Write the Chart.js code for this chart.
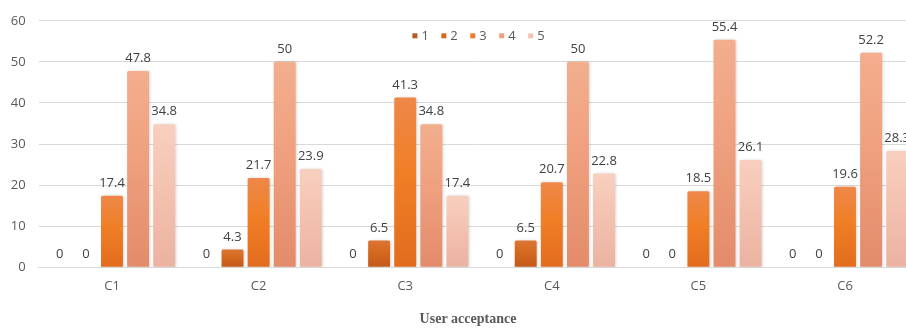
<!DOCTYPE html>
<html>
<head>
<meta charset="utf-8">
<script src="https://cdn.jsdelivr.net/npm/chart.js@4.4.1/dist/chart.umd.min.js"></script>
<style>
  html, body { margin: 0; padding: 0; background: #ffffff; overflow: hidden; }
  #wrap { width: 906px; height: 329px; overflow: hidden; position: relative; }
  canvas { display: block; }
</style>
</head>
<body>
<div id="wrap"><canvas id="chart" width="936" height="329"></canvas></div>
<script>
// Ratings per criterion, one array per rating level
const categories = ['C1', 'C2', 'C3', 'C4', 'C5', 'C6'];
const seriesNames = ['1', '2', '3', '4', '5'];
const rating1 = [0, 0, 0, 0, 0, 0];
const rating2 = [0, 4.3, 6.5, 6.5, 0, 0];
const rating3 = [17.4, 21.7, 41.3, 20.7, 18.5, 19.6];
const rating4 = [47.8, 50, 34.8, 50, 55.4, 52.2];
const rating5 = [34.8, 23.9, 17.4, 22.8, 26.1, 28.3];
const yMin = 0, yMax = 60, yStep = 10;
const axisTitle = 'User acceptance';

// Bar shading: gradient stops from top to bottom, plus a flat swatch colour
const palettes = [
  { swatch: '#B65A22', stops: ['#C4682E', '#B85B21', '#A84E17'] },
  { swatch: '#D6691F', stops: ['#DC7635', '#D4681F', '#C2591A'] },
  { swatch: '#EF7A28', stops: ['#EE8849', '#F07E25', '#E26C1E'] },
  { swatch: '#F0A07F', stops: ['#F3AE8D', '#EFA07E', '#E38B6B'] },
  { swatch: '#F5C3B1', stops: ['#F8CFBF', '#F4C2B0', '#EBB2A1'] }
];

Chart.defaults.font.family = "'Open Sans', sans-serif";
Chart.defaults.font.size = 13;
Chart.defaults.color = '#595959';

function barFill(idx) {
  return function (ctx) {
    const pal = palettes[idx];
    if (ctx.type !== 'data') return pal.swatch;
    const chart = ctx.chart;
    const y = chart.scales && chart.scales.y;
    if (!y || !chart.chartArea) return pal.swatch;
    const top = y.getPixelForValue(ctx.parsed.y);
    const base = y.getPixelForValue(0);
    if (!isFinite(top) || Math.abs(base - top) < 1) return pal.stops[1];
    const g = chart.ctx.createLinearGradient(0, top, 0, base);
    g.addColorStop(0, pal.stops[0]);
    g.addColorStop(0.45, pal.stops[1]);
    g.addColorStop(1, pal.stops[2]);
    return g;
  };
}

const seriesValues = [rating1, rating2, rating3, rating4, rating5];
const datasets = seriesValues.map((vals, i) => ({
  label: seriesNames[i],
  data: vals,
  backgroundColor: barFill(i),
  borderWidth: 0,
  borderRadius: 1.5,
  borderSkipped: 'bottom',
  categoryPercentage: 0.89,
  barPercentage: 0.84
}));

// Let the value-axis labels use the free margin to the left of the axis box
const wideTickArea = {
  id: 'wideTickArea',
  afterLayout(chart) {
    chart.scales.y.left = 0;
  }
};

// Soft drop shadow under the bars
const barShadow = {
  id: 'barShadow',
  beforeDatasetsDraw(chart) {
    const c = chart.ctx;
    c.save();
    c.shadowColor = 'rgba(0,0,0,0.16)';
    c.shadowBlur = 3;
    c.shadowOffsetX = 1;
    c.shadowOffsetY = 0;
  },
  afterDatasetsDraw(chart) {
    chart.ctx.restore();
  }
};

// Value labels above each bar
const valueLabels = {
  id: 'valueLabels',
  afterDatasetsDraw(chart) {
    const c = chart.ctx;
    c.save();
    c.font = "13px 'Open Sans', sans-serif";
    c.fillStyle = '#404040';
    c.textAlign = 'center';
    c.textBaseline = 'middle';
    chart.data.datasets.forEach((ds, di) => {
      const meta = chart.getDatasetMeta(di);
      meta.data.forEach((bar, i) => {
        c.fillText(String(ds.data[i]), bar.x, bar.y - 12.5);
      });
    });
    c.restore();
  }
};

// Small square-swatch legend placed inside the plot, centred on it
const innerLegend = {
  id: 'innerLegend',
  afterDraw(chart) {
    const c = chart.ctx;
    const area = chart.chartArea;
    const box = 5, gap = 4, spacing = 12.5;
    c.save();
    c.font = "13px 'Open Sans', sans-serif";
    c.textBaseline = 'middle';
    c.textAlign = 'left';
    const widths = chart.data.datasets.map(ds => box + gap + c.measureText(ds.label).width);
    const total = widths.reduce((a, b) => a + b, 0) + spacing * (widths.length - 1);
    let x = (area.left + area.right) / 2 - total / 2;
    const yMid = area.top + 15;
    chart.data.datasets.forEach((ds, i) => {
      c.fillStyle = palettes[i].swatch;
      c.fillRect(x, yMid - box / 2, box, box);
      c.fillStyle = '#595959';
      c.fillText(ds.label, x + box + gap, yMid + 0.5);
      x += widths[i] + spacing;
    });
    c.restore();
  }
};

new Chart(document.getElementById('chart'), {
  type: 'bar',
  data: { labels: categories, datasets },
  options: {
    responsive: false,
    animation: false,
    devicePixelRatio: 1,
    layout: { padding: { left: 17.7, right: 17.7, top: 16, bottom: 0 } },
    plugins: {
      legend: { display: false },
      tooltip: { enabled: false },
      title: {
        display: true,
        position: 'bottom',
        text: axisTitle,
        color: '#595959',
        font: { family: "'Liberation Serif', 'Times New Roman', serif", size: 14, weight: 'bold', lineHeight: 1.2 },
        padding: { top: 12, bottom: 1 }
      }
    },
    scales: {
      x: {
        grid: { display: false, drawTicks: false },
        border: { display: true, color: '#D9D9D9', width: 1 },
        ticks: { padding: 11, color: '#595959', font: { size: 13 } },
        afterFit(scale) { scale.height = 32; }
      },
      y: {
        min: yMin,
        max: yMax,
        grid: { color: '#D9D9D9', lineWidth: 1, drawTicks: false },
        border: { display: false },
        ticks: { stepSize: yStep, padding: 13, color: '#595959', font: { size: 13 } },
        afterFit(scale) { scale.width = 21; }
      }
    }
  },
  plugins: [wideTickArea, barShadow, valueLabels, innerLegend]
});
</script>
</body>
</html>
